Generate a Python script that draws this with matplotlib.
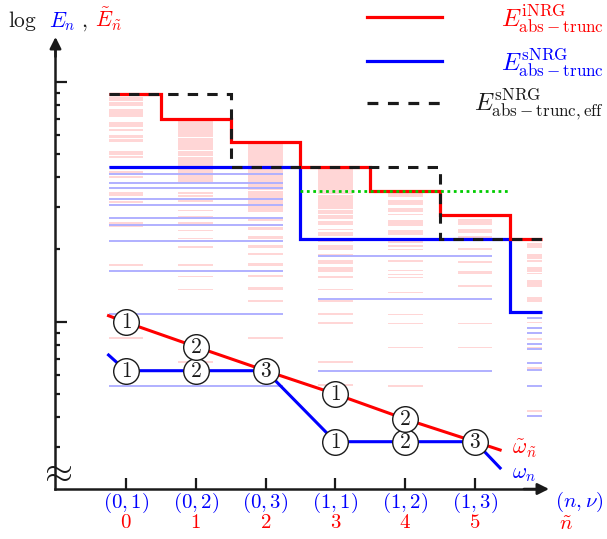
import numpy as np
import matplotlib
matplotlib.use('Agg')
import matplotlib.pyplot as plt
from matplotlib.lines import Line2D

plt.rcParams['mathtext.fontset'] = 'cm'
plt.rcParams['font.family'] = ['DejaVu Serif']
plt.rcParams['axes.unicode_minus'] = False

# ---------------- data (y in log-energy units, 24 units per decade) ----------------
ntilde = [0, 1, 2, 3, 4, 5]
n_nu_labels = ['(0,1)', '(0,2)', '(0,3)', '(1,1)', '(1,2)', '(1,3)']
ntilde_labels = ['0', '1', '2', '3', '4', '5']
nu_labels = ['1', '2', '3', '1', '2', '3']

# truncation energies
E_iNRG = [22.74, 20.30, 17.94, 15.47, 13.07, 10.67, 8.27]   # per column 0..6
E_sNRG = [15.47, 8.27, 1.00]                                 # per shell n=0,1,2
E_sNRG_eff = [22.74, 15.47, 8.27]
E_green = 13.07

# lowest excitation scales
omega_tilde = [-0.06, -2.50, -4.90, -7.23, -9.73, -12.00]
omega_tilde_ends = [0.60, -12.83]
omega = [-4.90, -4.90, -4.90, -12.00, -12.00, -12.00]
omega_ends = [-3.33, -14.63]

# sNRG kept levels per shell n (blue)
levels_n0 = [15.47, 14.8, 13.9, 13.4, 12.3, 11.7, 10.4, 9.64, 8.1, 5.1, 0.8, -6.43]
levels_n1 = [8.27, 6.57, 2.27, -4.9]
levels_n2 = [1.0, 0.37, -0.6, -1.1, -2.2, -2.76, -4.1, -4.83, -6.4, -9.4]

# iNRG levels per column (pink), (low, high) bands
pink_c0 = [(22.1, 22.5), (21.6, 22.0), (20.5, 21.3), (19.5, 20.0), (19.1, 19.3), (18.4, 18.7),
           (18.0, 18.3), (16.7, 17.1), (16.4, 16.6), (14.9, 15.1), (14.4, 14.6), (12.6, 13.0),
           (11.9, 12.1), (9.8, 10.0), (9.5, 9.65), (5.6, 5.8), (-1.7, -1.5)]
pink_c1 = [(18.5, 20.2), (17.2, 18.4), (16.6, 17.1), (14.0, 16.5), (12.8, 13.0), (12.5, 12.7),
           (12.0, 12.2), (11.05, 11.2), (10.45, 10.6), (9.8, 10.0), (9.6, 9.75), (9.05, 9.2),
           (8.25, 8.4), (7.4, 7.6), (5.6, 5.8), (4.45, 4.6), (3.15, 3.3), (-4.1, -3.9)]
pink_c2 = [(15.4, 17.9), (13.2, 15.3), (11.0, 13.1), (10.1, 10.3), (9.2, 9.5), (8.3, 8.6),
           (7.4, 7.7), (6.7, 6.9), (5.6, 5.9), (4.5, 4.7), (3.2, 3.5), (2.0, 2.2), (-1.7, -1.5)]
pink_c3 = [(12.8, 15.3), (11.3, 12.7), (10.8, 11.2), (10.3, 10.7), (9.7, 10.1), (9.15, 9.3),
           (8.6, 9.0), (8.0, 8.2), (7.2, 7.7), (6.65, 6.8), (5.8, 6.2), (5.0, 5.5), (4.4, 4.6),
           (3.15, 3.3), (2.0, 2.2), (0.7, 0.9), (-0.2, 0.0), (-4.1, -3.9), (-6.4, -6.2)]
pink_c4 = [(12.5, 13.07), (11.7, 12.2), (11.0, 11.4), (10.65, 10.8), (9.6, 10.2), (8.7, 9.2),
           (7.9, 8.1), (7.5, 7.7), (7.15, 7.3), (6.0, 6.2), (5.05, 5.2), (4.65, 4.8), (4.35, 4.5),
           (2.85, 3.0), (0.65, 0.8), (-0.25, -0.1), (-2.65, -2.5), (-6.5, -6.3)]
pink_c5 = [(9.7, 10.3), (8.9, 9.3), (8.3, 8.6), (7.2, 7.4), (5.9, 6.1), (4.8, 5.1), (3.5, 3.7),
           (-0.25, -0.1), (-2.65, -2.5)]
pink_c6 = [(7.4, 7.9), (6.3, 6.8), (6.0, 6.2), (5.0, 5.5), (4.75, 4.9), (3.5, 4.2), (2.0, 2.5),
           (-0.15, 0.0), (-1.8, -1.6), (-2.65, -2.5), (-4.8, -4.5), (-9.0, -8.85)]

# ---------------- layout ----------------
W, H = 607, 539
fig = plt.figure(figsize=(W / 100, H / 100), dpi=100)
ax = fig.add_axes([0, 0, 1, 1])
ax.set_xlim(-1.805, 6.891)
ax.set_ylim(-21.73, 32.17)
ax.patch.set_alpha(0)

x_axis0 = -1.01      # position of the vertical axis
y_axis0 = -16.73     # position of the horizontal axis
x_cut = 5.96         # right end of the drawn region
half = 0.25

RED = '#ff0000'
BLUE = '#0000ff'
PINK = '#ffd6d6'
LBLUE = '#b0b0ff'
DARK = '#1a1a1a'

def fx(px):
    return px / W

def fy(py):
    return 1 - py / H

# pink iNRG levels
pink_cols = [pink_c0, pink_c1, pink_c2, pink_c3, pink_c4, pink_c5, pink_c6]
for c, bands in enumerate(pink_cols):
    left = c - half
    right = min(c + half, x_cut)
    for lo, hi in bands:
        ax.bar(left, max(hi - lo, 0.15), bottom=lo, width=right - left, align='edge',
               color=PINK, linewidth=0, zorder=1)

# blue sNRG levels (span over the three columns of shell n)
for n, levs in enumerate([levels_n0, levels_n1, levels_n2]):
    left = 3 * n - half
    right = min(3 * n + 2 + half, x_cut)
    for e in levs:
        ax.plot([left, right], [e, e], color=LBLUE, lw=1.4, solid_capstyle='butt', zorder=2)

# step lines
red_edges = [ntilde[0] - half] + [c + 0.5 for c in ntilde] + [x_cut]
ax.stairs(E_iNRG, red_edges, baseline=None, color=RED, lw=2.3, zorder=4)
blue_edges = [ntilde[0] - half, 2.5, 5.5, x_cut]
ax.stairs(E_sNRG, blue_edges, baseline=None, color=BLUE, lw=2.3, zorder=3)
eff_edges = [ntilde[0] - half, 1.5, 4.5, x_cut]
ax.stairs(E_sNRG_eff, eff_edges, baseline=None, color=DARK, lw=2.2,
          linestyle=(0, (3.4, 3.0)), zorder=5)
ax.plot([2.5, 5.5], [E_green, E_green], color='#00cc00', lw=2.0,
        linestyle=(0, (1, 1.3)), zorder=5)

# omega lines
xs = [ntilde[0] - half] + ntilde + [5.36]
ax.plot(xs, [omega_tilde_ends[0]] + omega_tilde + [omega_tilde_ends[1]], color=RED, lw=2.2, zorder=6)
ax.plot(xs, [omega_ends[0]] + omega + [omega_ends[1]], color=BLUE, lw=2.2, zorder=6)

drawn = set()
for vals in (omega, omega_tilde):
    for x, v, lab in zip(ntilde, vals, nu_labels):
        key = (x, round(v, 2))
        if key in drawn:
            continue
        drawn.add(key)
        ax.scatter([x], [v], s=340, facecolor='white', edgecolor=DARK, linewidth=1.0, zorder=7)
        ax.text(x, v, '$%s$' % lab, ha='center', va='center', fontsize=15.5, color=DARK, zorder=8)

ax.text(5.53, -12.7, r'$\tilde{\omega}_{\tilde{n}}$', color=RED, fontsize=15.5,
        ha='left', va='center')
ax.text(5.53, -15.1, r'$\omega_n$', color=BLUE, fontsize=15.5, ha='left', va='center')

# axes
for s in ['top', 'right']:
    ax.spines[s].set_visible(False)
ax.spines['left'].set_position(('data', x_axis0))
ax.spines['left'].set_bounds(y_axis0, 28.0)
ax.spines['bottom'].set_position(('data', y_axis0))
ax.spines['bottom'].set_bounds(x_axis0, 5.9)
for s in ['left', 'bottom']:
    ax.spines[s].set_linewidth(1.8)
    ax.spines[s].set_color(DARK)
    ax.spines[s].set_zorder(9)

ax.set_yticks([0, 24])
minor = [24 * np.log10(k) for k in range(2, 10)] + [-24 * np.log10(10 / k) for k in range(3, 10)]
ax.set_yticks(minor, minor=True)
ax.set_yticklabels([])
ax.tick_params(axis='y', which='major', direction='in', length=8.6, width=1.6, color=DARK)
ax.tick_params(axis='y', which='minor', direction='in', length=3.8, width=1.6, color=DARK)
ax.set_xticks(ntilde)
ax.set_xticklabels([])
ax.tick_params(axis='x', which='major', direction='in', length=8.0, width=1.6, color=DARK)

ax.annotate('', xy=(x_axis0, 28.47), xytext=(x_axis0, 26.5),
            arrowprops=dict(arrowstyle='-|>', color=DARK, lw=1.8, mutation_scale=17,
                            shrinkA=0, shrinkB=0), zorder=9)
ax.annotate('', xy=(6.06, y_axis0), xytext=(5.7, y_axis0),
            arrowprops=dict(arrowstyle='-|>', color=DARK, lw=1.8, mutation_scale=17,
                            shrinkA=0, shrinkB=0), zorder=9)
fig.text(fx(55), fy(471), r'$\approx$', fontsize=26, color=DARK, ha='center', va='center')

# tick labels
for x, l1, l2 in zip(ntilde, n_nu_labels, ntilde_labels):
    ax.text(x, -18.1, '$%s$' % l1, color=BLUE, fontsize=15, ha='center', va='center')
    ax.text(x, -20.1, '$%s$' % l2, color=RED, fontsize=15, ha='center', va='center')
fig.text(fx(579), fy(502), r'$(n,\nu)$', color=BLUE, fontsize=15, ha='center', va='center')
fig.text(fx(566), fy(524), r'$\tilde{n}$', color=RED, fontsize=15, ha='center', va='center')

# y label
fig.text(fx(8), fy(27), r'$\log$', color=DARK, fontsize=15.5, ha='left', va='baseline')
fig.text(fx(49), fy(27), r'$E_n$', color=BLUE, fontsize=15.5, ha='left', va='baseline')
fig.text(fx(81), fy(27), r'$,$', color=DARK, fontsize=15.5, ha='left', va='baseline')
fig.text(fx(95), fy(27), r'$\tilde{E}_{\tilde{n}}$', color=RED, fontsize=15.5, ha='left', va='baseline')

# legend (manual)
leg = [(RED, '-', r'$E^{\mathrm{iNRG}}_{\mathrm{abs-trunc}}$', 17, RED),
       (BLUE, '-', r'$E^{\mathrm{sNRG}}_{\mathrm{abs-trunc}}$', 61, BLUE),
       (DARK, (0, (3.4, 3.0)), r'$E^{\mathrm{sNRG}}_{\mathrm{abs-trunc,eff}}$', 103, DARK)]
for col, ls, lab, py, tcol in leg:
    fig.add_artist(Line2D([fx(367), fx(442)], [fy(py), fy(py)], color=col, lw=2.3, linestyle=ls))
    fig.text(fx(604), fy(py + 2), lab, color=tcol, fontsize=17.5, ha='right', va='center')

fig.savefig('out.png', dpi=100)
